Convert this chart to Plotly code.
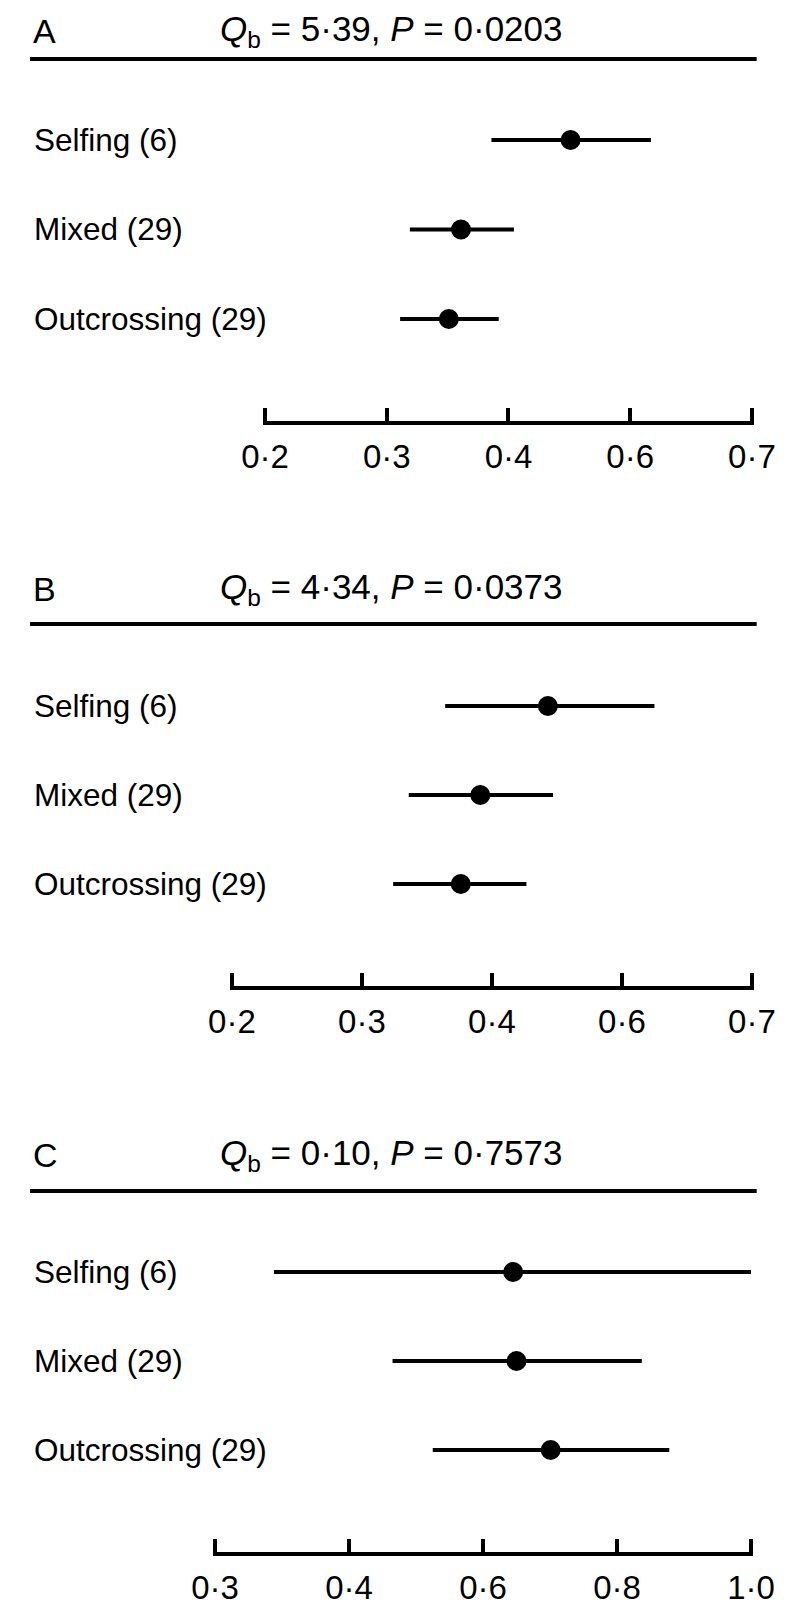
import numpy as np
import plotly.graph_objects as go

# page is drawn inside an 8px body margin
OFF = 8
W, H = 798, 1614
FW, FH = W - 2 * OFF, H - 2 * OFF

categories = ["Selfing", "Mixed", "Outcrossing"]
counts = [6, 29, 29]

panel_letters = ["A", "B", "C"]
qb_values = ["5·39", "4·34", "0·10"]
p_values = ["0·0203", "0·0373", "0·7573"]

# tick labels (equally spaced on the printed axis)
ticks_A = [0.2, 0.3, 0.4, 0.6, 0.7]
ticks_B = [0.2, 0.3, 0.4, 0.6, 0.7]
ticks_C = [0.3, 0.4, 0.6, 0.8, 1.0]

# estimates and confidence limits (Selfing, Mixed, Outcrossing)
est_A = [0.502, 0.361, 0.351]
lo_A = [0.386, 0.319, 0.311]
hi_A = [0.617, 0.409, 0.392]

est_B = [0.486, 0.391, 0.376]
lo_B = [0.364, 0.336, 0.324]
hi_B = [0.625, 0.494, 0.453]

est_C = [0.645, 0.650, 0.701]
lo_C = [0.344, 0.465, 0.525]
hi_C = [1.000, 0.837, 0.878]

FONT = "Liberation Sans, Arial, Helvetica, sans-serif"

# layout positions in page pixels
panels = [
    dict(ticks=ticks_A, est=est_A, lo=lo_A, hi=hi_A, x0=257, x1=773,
         title_y=31, line_y=59, rows=[140, 230, 319], axis_y=421),
    dict(ticks=ticks_B, est=est_B, lo=lo_B, hi=hi_B, x0=222, x1=773,
         title_y=589, line_y=624, rows=[706, 795, 884], axis_y=986),
    dict(ticks=ticks_C, est=est_C, lo=lo_C, hi=hi_C, x0=204, x1=772,
         title_y=1155, line_y=1191, rows=[1272, 1362, 1450], axis_y=1552),
]


def px(x):
    return (x - OFF) / FW


def py(y):
    return 1 - (y - OFF) / FH


def fmt(v):
    return f"{v:.1f}".replace(".", "·")


fig = go.Figure()
annotations = []
shapes = []

for i, p in enumerate(panels):
    n = i + 1
    xa = "x" if n == 1 else f"x{n}"
    ya = "y" if n == 1 else f"y{n}"
    pos = list(range(len(p["ticks"])))
    e = np.interp(p["est"], p["ticks"], pos)
    lo = np.interp(p["lo"], p["ticks"], pos)
    hi = np.interp(p["hi"], p["ticks"], pos)
    yvals = [2, 1, 0]
    fig.add_trace(go.Scatter(
        x=e, y=yvals, mode="markers", xaxis=xa, yaxis=ya,
        marker=dict(color="black", size=20, symbol="circle", line=dict(width=0)),
        error_x=dict(type="data", symmetric=False, array=hi - e, arrayminus=e - lo,
                     color="black", thickness=4, width=0),
        showlegend=False, hoverinfo="skip", cliponaxis=False,
    ))
    spacing = (p["rows"][2] - p["rows"][0]) / 2.0
    top_px = p["rows"][0] - 50
    y_top = 2 + (p["rows"][0] - top_px) / spacing
    y_bot = 0 - (p["axis_y"] - p["rows"][2]) / spacing
    dom_y = [py(p["axis_y"]), py(top_px)]
    unit = (p["x1"] - p["x0"]) / (len(pos) - 1)
    pad = 2.0  # px so that the end ticks are not clipped
    fig.layout[("xaxis" if n == 1 else f"xaxis{n}")] = dict(
        domain=[px(p["x0"] - pad), px(p["x1"] + pad)],
        range=[-pad / unit, len(pos) - 1 + pad / unit],
        anchor=ya, showline=True, linecolor="black", linewidth=4,
        ticks="inside", ticklen=13, tickwidth=4, tickcolor="black",
        tickvals=pos, ticktext=[fmt(t) for t in p["ticks"]],
        tickfont=dict(size=33, color="black", family=FONT),
        ticklabelstandoff=3, ticklabeloverflow="allow",
        showgrid=False, zeroline=False, fixedrange=True,
    )
    fig.layout[("yaxis" if n == 1 else f"yaxis{n}")] = dict(
        domain=dom_y, range=[y_bot, y_top], anchor=xa,
        visible=False, showgrid=False, zeroline=False, fixedrange=True,
    )
    annotations.append(dict(xref="paper", yref="paper", x=px(9), y=py(p["title_y"]),
                            xanchor="left", yanchor="middle", showarrow=False,
                            text=panel_letters[i], font=dict(size=34, color="black", family=FONT)))
    annotations.append(dict(xref="paper", yref="paper", x=px(207), y=py(p["title_y"]),
                            xanchor="left", yanchor="middle", showarrow=False,
                            text=f"<i>Q</i><sub>b</sub> = {qb_values[i]}, <i>P</i> = {p_values[i]}",
                            font=dict(size=35, color="black", family=FONT)))
    shapes.append(dict(type="line", xref="paper", yref="paper", x0=px(OFF), x1=px(778),
                       y0=py(p["line_y"]), y1=py(p["line_y"]),
                       line=dict(color="black", width=4)))
    for c, cnt, yv in zip(categories, counts, yvals):
        annotations.append(dict(xref="paper", yref=ya, x=px(10), y=yv,
                                xanchor="left", yanchor="middle", showarrow=False,
                                text=f"{c} ({cnt})", font=dict(size=31.5, color="black", family=FONT)))

fig.update_layout(
    width=FW, height=FH, margin=dict(l=0, r=0, t=0, b=0),
    paper_bgcolor="white", plot_bgcolor="white",
    annotations=annotations, shapes=shapes,
)

fig.write_html("out.html")
